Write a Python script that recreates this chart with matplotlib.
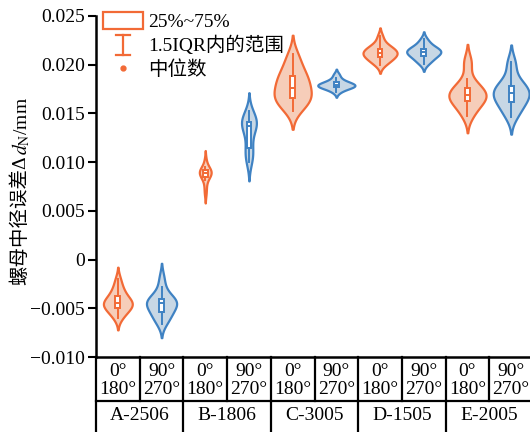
import numpy as np
import matplotlib
matplotlib.use('Agg')
import matplotlib.pyplot as plt
from matplotlib import mlab
from matplotlib.lines import Line2D
from matplotlib.patches import Rectangle
from matplotlib.legend_handler import HandlerBase
from matplotlib.ticker import FuncFormatter

plt.rcParams['font.family'] = ['Liberation Serif', 'Noto Sans CJK SC']
plt.rcParams['font.size'] = 14
plt.rcParams['mathtext.fontset'] = 'stix'

# groups and angle columns of the table below the axes
groups = ['A-2506', 'B-1806', 'C-3005', 'D-1505', 'E-2005']
angles = ['0°\n180°', '90°\n270°']

# pitch diameter error samples (mm)
a_0 = [-0.0060, -0.0056, -0.0053, -0.0051, -0.0049, -0.0047, -0.0046, -0.0045,
       -0.0044, -0.0043, -0.0041, -0.0038, -0.0035, -0.0032, -0.0027, -0.0020]
a_90 = [-0.0066, -0.0062, -0.0058, -0.0056, -0.0053, -0.0050, -0.0048, -0.0046,
        -0.0044, -0.0043, -0.0042, -0.0041, -0.0040, -0.0035, -0.0028, -0.0018]
b_0 = [0.0068, 0.0075, 0.0082, 0.0085, 0.0086, 0.0088, 0.0089, 0.0089,
       0.0090, 0.0091, 0.0092, 0.0093, 0.0095, 0.0102]
b_90 = [0.0100, 0.0104, 0.0108, 0.0112, 0.0116, 0.0125, 0.0132, 0.0136,
        0.0138, 0.0139, 0.0140, 0.0141, 0.0143, 0.0145, 0.0148, 0.0152]
c_0 = [0.0153, 0.0158, 0.0162, 0.0164, 0.0166, 0.0169, 0.0171, 0.0174,
       0.0179, 0.0182, 0.0185, 0.0188, 0.0191, 0.0197, 0.0204, 0.0211]
c_90 = [0.0172, 0.0175, 0.0176, 0.0177, 0.0178, 0.0178, 0.0179, 0.0179,
        0.0180, 0.0181, 0.0182, 0.0183, 0.0186, 0.0190]
d_0 = [0.0200, 0.0203, 0.0205, 0.0207, 0.0208, 0.0210, 0.0211, 0.0212,
       0.0213, 0.0214, 0.0216, 0.0217, 0.0219, 0.0222, 0.0229]
d_90 = [0.0201, 0.0204, 0.0206, 0.0208, 0.0210, 0.0211, 0.0212, 0.0213,
        0.0214, 0.0215, 0.0216, 0.0217, 0.0219, 0.0222, 0.0226]
e_0 = [0.0147, 0.0151, 0.0156, 0.0159, 0.0162, 0.0164, 0.0166, 0.0167, 0.0168,
       0.0169, 0.0171, 0.0173, 0.0175, 0.0177, 0.0180, 0.0185, 0.0201, 0.0204]
e_90 = [0.0146, 0.0150, 0.0155, 0.0158, 0.0161, 0.0164, 0.0166, 0.0168, 0.0170,
        0.0171, 0.0173, 0.0175, 0.0177, 0.0179, 0.0182, 0.0187, 0.0200, 0.0203]

samples = [a_0, a_90, b_0, b_90, c_0, c_90, d_0, d_90, e_0, e_90]

orange_line, orange_fill = '#F26A36', '#F6CDB9'
blue_line, blue_fill = '#3F82C3', '#C7D7E5'
widths = [0.66, 0.69, 0.27, 0.34, 0.85, 0.85, 0.78, 0.78, 0.85, 0.82]


def kde_stats(data, cut=2.0, points=200):
    data = np.asarray(data)
    kde = mlab.GaussianKDE(data, 'scott')
    bw = np.sqrt(kde.covariance[0, 0])
    coords = np.linspace(data.min() - cut * bw, data.max() + cut * bw, points)
    return dict(coords=coords, vals=kde.evaluate(coords), mean=data.mean(),
                median=np.median(data), min=coords[0], max=coords[-1], quantiles=[])


fig = plt.figure(figsize=(5.3, 4.32), dpi=100)
ax = fig.add_axes([96 / 530, 1 - 357 / 432, 437 / 530, 341 / 432])

pos = np.arange(len(samples))
vp = ax.violin([kde_stats(s) for s in samples], positions=pos, widths=widths,
               showmeans=False, showextrema=False, showmedians=False)
for i, body in enumerate(vp['bodies']):
    line = orange_line if i % 2 == 0 else blue_line
    fill = orange_fill if i % 2 == 0 else blue_fill
    body.set_alpha(1)
    body.set_facecolor(fill)
    body.set_edgecolor(line)
    body.set_linewidth(1.6)

bp = ax.boxplot(samples, positions=pos, widths=0.11, patch_artist=True, whis=1.5,
                showcaps=False, showfliers=False, manage_ticks=False)
for i in range(len(samples)):
    line = orange_line if i % 2 == 0 else blue_line
    bp['boxes'][i].set(facecolor='white', edgecolor=line, linewidth=1.4)
    bp['medians'][i].set(color=line, linewidth=1.4)
    for w in bp['whiskers'][2 * i:2 * i + 2]:
        w.set(color=line, linewidth=1.4)

ax.set_xlim(-0.5, 9.5)
ax.set_ylim(-0.010, 0.025)
ax.set_yticks(np.arange(-0.010, 0.0251, 0.005))
ax.yaxis.set_major_formatter(FuncFormatter(
    lambda v, p: '0' if abs(v) < 1e-9 else f'{v:.3f}'.replace('-', '\u2212')))
ax.set_xticks([])
ax.tick_params(axis='y', direction='out', length=6, width=1.5, pad=2)
for s in ['top', 'right']:
    ax.spines[s].set_visible(False)
for s in ['left', 'bottom']:
    ax.spines[s].set_linewidth(1.8)

# y label in two pieces: CJK text, then the math symbol part
lab1 = ax.text((20 - 96) / 437, (357 - 285) / 341, '螺母中径误差Δ', transform=ax.transAxes,
               rotation=90, ha='center', va='bottom', fontsize=14)
ax.annotate('$d_{\\mathrm{N}}$/mm', xy=(0.5, 1), xycoords=lab1, xytext=(1, 0),
            textcoords='offset points', rotation=90, ha='center', va='bottom',
            fontsize=14)

# table under the axes
tr = ax.get_xaxis_transform()
r1 = -(401 - 357) / 341
r2 = -(445 - 357) / 341
kw = dict(color='black', linewidth=1.6, transform=tr, clip_on=False)
ax.plot([-0.5, -0.5], [0, r2], **kw)
ax.plot([-0.5, 9.6], [r1, r1], **kw)
for k in range(10):
    ax.plot([k + 0.5, k + 0.5], [0, r1], **kw)
    ax.text(k, r1 / 2 - 0.004, angles[k % 2], transform=tr, ha='center', va='center',
            linespacing=1.1, fontsize=14)
for g, name in enumerate(groups):
    ax.plot([2 * g + 1.5, 2 * g + 1.5], [r1, r2], **kw)
    ax.text(2 * g + 0.5, -(416 - 357) / 341, name, transform=tr,
            ha='center', va='center', fontsize=14)


class WhiskerHandler(HandlerBase):
    def create_artists(self, legend, orig_handle, xdescent, ydescent,
                       width, height, fontsize, trans):
        cx = width / 2 - xdescent
        top, bot = height * 1.1 - ydescent, -ydescent - 0.1 * height
        cw = width * 0.17
        arts = [Line2D([cx, cx], [bot, top]),
                Line2D([cx - cw, cx + cw], [top, top]),
                Line2D([cx - cw, cx + cw], [bot, bot])]
        for a in arts:
            a.set_color(orange_line)
            a.set_linewidth(1.6)
            a.set_transform(trans)
        return arts


box_h = Rectangle((0, 0), 1, 1, facecolor='white', edgecolor=orange_line, linewidth=1.6)
whisk_h = Line2D([], [])
dot_h = Line2D([], [], linestyle='none', marker='o', markersize=3.5,
               color=orange_line)
fig.legend([box_h, whisk_h, dot_h], ['25%~75%', '1.5IQR内的范围', '中位数'],
           handler_map={whisk_h: WhiskerHandler()},
           loc='upper left', bbox_to_anchor=(103 / 530, 1 - 12 / 432),
           frameon=False, borderpad=0, borderaxespad=0, handlelength=2.05,
           handleheight=0.95, handletextpad=0.28, labelspacing=0.25, fontsize=14)

fig.savefig('out.png', dpi=100)
